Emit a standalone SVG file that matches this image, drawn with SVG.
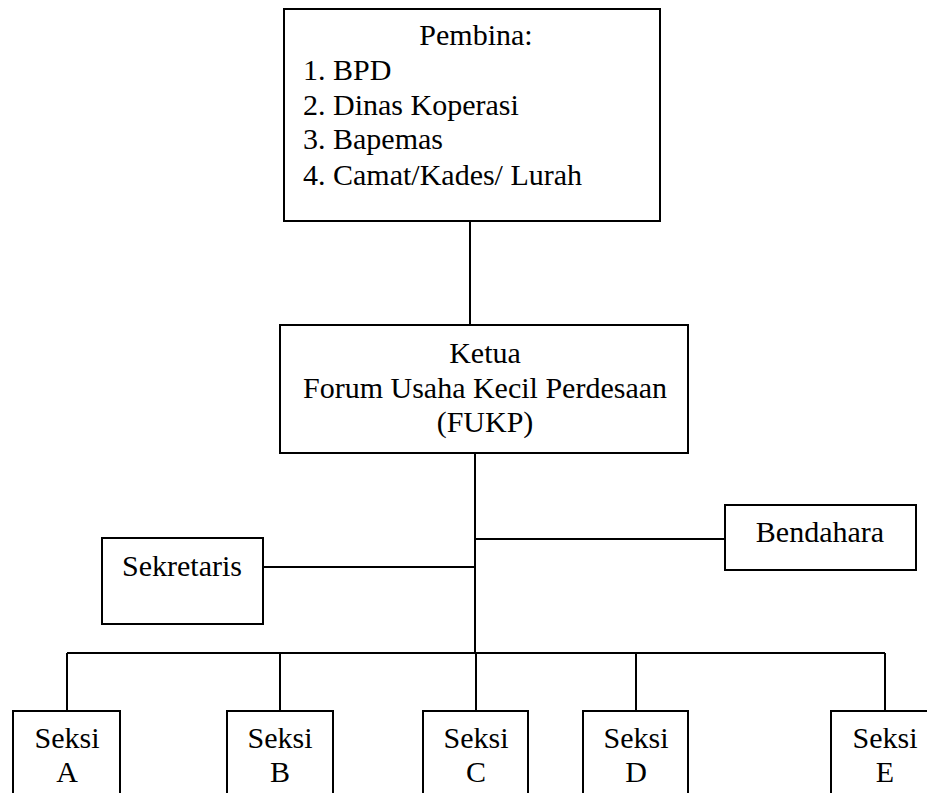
<svg xmlns="http://www.w3.org/2000/svg" width="927" height="793" viewBox="0 0 927 793">
  <style>
    .box { fill: #ffffff; stroke: #000000; stroke-width: 2; }
    .wire { fill: none; stroke: #000000; stroke-width: 2; }
  </style>

  <!-- connectors -->
  <g id="connectors">
    <line class="wire" x1="470" y1="221" x2="470" y2="325"/>
    <line class="wire" x1="475" y1="453" x2="475" y2="653"/>
    <line class="wire" x1="263" y1="567" x2="475" y2="567"/>
    <line class="wire" x1="475" y1="539" x2="725" y2="539"/>
    <line class="wire" x1="67" y1="653" x2="885" y2="653"/>
    <line class="wire" x1="67" y1="653" x2="67" y2="711"/>
    <line class="wire" x1="280" y1="653" x2="280" y2="711"/>
    <line class="wire" x1="476" y1="653" x2="476" y2="711"/>
    <line class="wire" x1="636" y1="653" x2="636" y2="711"/>
    <line class="wire" x1="885" y1="653" x2="885" y2="711"/>
  </g>

  <!-- advisors -->
  <g id="pembina">
    <rect class="box" x="284" y="9" width="376" height="212"/>
    <text font-family="Liberation Serif" font-size="30" text-anchor="middle" x="476" y="45">Pembina:</text>
    <text font-family="Liberation Serif" font-size="30" x="303" y="80">1. BPD</text>
    <text font-family="Liberation Serif" font-size="30" x="303" y="115">2. Dinas Koperasi</text>
    <text font-family="Liberation Serif" font-size="30" x="303" y="149">3. Bapemas</text>
    <text font-family="Liberation Serif" font-size="30" x="303" y="185">4. Camat/Kades/ Lurah</text>
  </g>

  <!-- chair -->
  <g id="ketua">
    <rect class="box" x="280" y="325" width="408" height="128"/>
    <text font-family="Liberation Serif" font-size="30" text-anchor="middle" x="485" y="363">Ketua</text>
    <text font-family="Liberation Serif" font-size="30" text-anchor="middle" x="485" y="398">Forum Usaha Kecil Perdesaan</text>
    <text font-family="Liberation Serif" font-size="30" text-anchor="middle" x="485" y="432">(FUKP)</text>
  </g>

  <g id="sekretaris">
    <rect class="box" x="102" y="538" width="161" height="86"/>
    <text font-family="Liberation Serif" font-size="30" text-anchor="middle" x="182" y="576">Sekretaris</text>
  </g>

  <g id="bendahara">
    <rect class="box" x="725" y="505" width="191" height="65"/>
    <text font-family="Liberation Serif" font-size="30" text-anchor="middle" x="820" y="542">Bendahara</text>
  </g>

  <!-- sections -->
  <g id="seksi-a">
    <rect class="box" x="13" y="711" width="107" height="100"/>
    <text font-family="Liberation Serif" font-size="30" text-anchor="middle" x="67" y="748">Seksi</text>
    <text font-family="Liberation Serif" font-size="30" text-anchor="middle" x="67" y="782">A</text>
  </g>
  <g id="seksi-b">
    <rect class="box" x="227" y="711" width="106" height="100"/>
    <text font-family="Liberation Serif" font-size="30" text-anchor="middle" x="280" y="748">Seksi</text>
    <text font-family="Liberation Serif" font-size="30" text-anchor="middle" x="280" y="782">B</text>
  </g>
  <g id="seksi-c">
    <rect class="box" x="423" y="711" width="105" height="100"/>
    <text font-family="Liberation Serif" font-size="30" text-anchor="middle" x="476" y="748">Seksi</text>
    <text font-family="Liberation Serif" font-size="30" text-anchor="middle" x="476" y="782">C</text>
  </g>
  <g id="seksi-d">
    <rect class="box" x="583" y="711" width="105" height="100"/>
    <text font-family="Liberation Serif" font-size="30" text-anchor="middle" x="636" y="748">Seksi</text>
    <text font-family="Liberation Serif" font-size="30" text-anchor="middle" x="636" y="782">D</text>
  </g>
  <g id="seksi-e">
    <rect class="box" x="831" y="711" width="108" height="100"/>
    <text font-family="Liberation Serif" font-size="30" text-anchor="middle" x="885" y="748">Seksi</text>
    <text font-family="Liberation Serif" font-size="30" text-anchor="middle" x="885" y="782">E</text>
  </g>
</svg>
